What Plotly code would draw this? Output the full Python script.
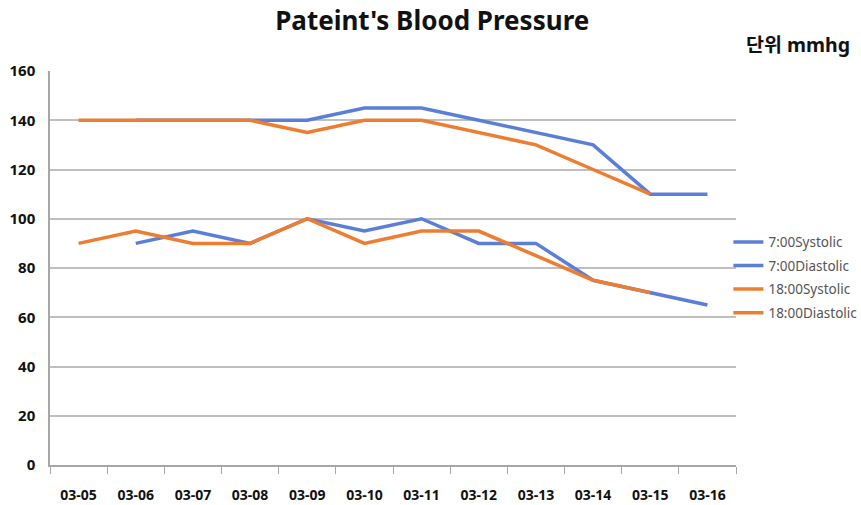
import plotly.graph_objects as go

dates = ["03-05", "03-06", "03-07", "03-08", "03-09", "03-10",
         "03-11", "03-12", "03-13", "03-14", "03-15", "03-16"]

am_systolic = [None, 140, 140, 140, 140, 145, 145, 140, 135, 130, 110, 110]
am_diastolic = [None, 90, 95, 90, 100, 95, 100, 90, 90, 75, 70, 65]
pm_systolic = [140, 140, 140, 140, 135, 140, 140, 135, 130, 120, 110, None]
pm_diastolic = [90, 95, 90, 90, 100, 90, 95, 95, 85, 75, 70, None]

names = ["7:00Systolic", "7:00Diastolic", "18:00Systolic", "18:00Diastolic"]
series = [am_systolic, am_diastolic, pm_systolic, pm_diastolic]
BLUE = "#5B7FD6"
ORANGE = "#ED7D31"
colors = [BLUE, BLUE, ORANGE, ORANGE]

fig = go.Figure()
for n, s, c in zip(names, series, colors):
    fig.add_trace(go.Scatter(
        x=dates, y=s, name=n, mode="lines",
        line=dict(color=c, width=3.5), legendgroup=n,
        connectgaps=False,
    ))

FONT = "Noto Sans, Noto Sans CJK KR, sans-serif"

fig.update_layout(
    width=861, height=505,
    margin=dict(l=50, r=125, t=71, b=40, autoexpand=False),
    paper_bgcolor="white", plot_bgcolor="white",
    font=dict(family=FONT, color="#000000"),
    title=dict(text="<b>Pateint's Blood Pressure</b>", x=0.502, xanchor="center",
               xref="container", yref="container",
               y=0.958, yanchor="middle", font=dict(size=26, color="#111111", family=FONT)),
    showlegend=True,
    legend=dict(xref="container", yref="container",
                x=0.846, xanchor="left", y=0.551, yanchor="top",
                font=dict(size=13.5, color="#555555", family=FONT),
                tracegroupgap=3, itemwidth=30, bgcolor="rgba(0,0,0,0)"),
    xaxis=dict(type="category", tickson="boundaries", ticks="outside", ticklen=7,
               tickcolor="#A6A6A6", showgrid=False, showline=True, linecolor="#A6A6A6",
               linewidth=1.5, tickfont=dict(size=14, color="#111111", family=FONT),
               ticklabelstandoff=16, range=[-0.5, 11.5], automargin=False),
    yaxis=dict(range=[0, 160], dtick=20, showgrid=True, gridcolor="#BFBFBF", gridwidth=1.5,
               showline=True, linecolor="#A6A6A6", linewidth=1.5, zeroline=False,
               tickfont=dict(size=15, color="#111111", family=FONT),
               ticklabelstandoff=10, automargin=False),
)
fig.update_xaxes(tickprefix="<b>", ticksuffix="</b>")
fig.update_yaxes(tickprefix="<b>", ticksuffix="</b>")

fig.add_annotation(text="<b>단위 mmhg</b>", xref="paper", yref="paper",
                   x=1.012, xanchor="left", y=1.068, yanchor="middle", showarrow=False,
                   font=dict(size=19.5, color="#111111", family=FONT))

fig.write_html("out.html", config={"displayModeBar": False},
               post_script="document.body.style.margin='0';")
